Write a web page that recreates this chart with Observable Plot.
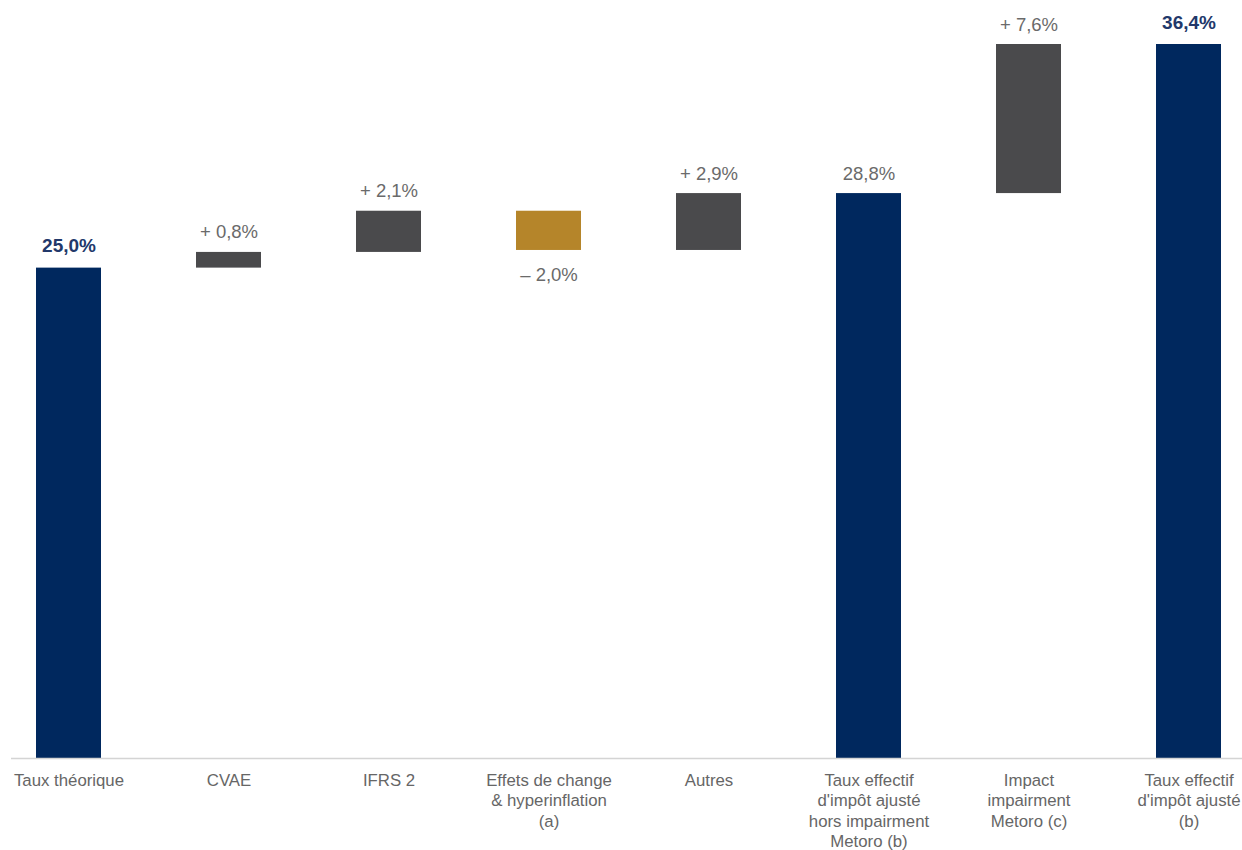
<!DOCTYPE html>
<html>
<head>
<meta charset="utf-8">
<script src="https://cdn.jsdelivr.net/npm/d3@7"></script>
<script src="https://cdn.jsdelivr.net/npm/@observablehq/plot@0.6"></script>
<style>
  html, body { margin: 0; padding: 0; background: #fff; }
  svg { overflow: visible; }
</style>
</head>
<body>
<div id="chart"></div>
<script>
const categories = [
  "Taux théorique",
  "CVAE",
  "IFRS 2",
  "Effets de change\n& hyperinflation\n(a)",
  "Autres",
  "Taux effectif\nd'impôt ajusté\nhors impairment\nMetoro (b)",
  "Impact\nimpairment\nMetoro (c)",
  "Taux effectif\nd'impôt ajusté\n(b)"
];
const values = [25.0, 0.8, 2.1, -2.0, 2.9, 28.8, 7.6, 36.4];
const kinds = ["total", "delta", "delta", "delta", "delta", "total", "delta", "total"];
const valueLabels = ["25,0%", "+ 0,8%", "+ 2,1%", "– 2,0%", "+ 2,9%", "28,8%", "+ 7,6%", "36,4%"];
const emphasis = [true, false, false, false, false, false, false, true];

const colors = { total: "#00285e", up: "#4a4a4c", down: "#b5852a" };

let running = 0;
const data = categories.map((c, i) => {
  let start, end;
  if (kinds[i] === "total") { start = 0; end = values[i]; running = values[i]; }
  else { start = running; end = running + values[i]; running = end; }
  const fill = kinds[i] === "total" ? colors.total : (values[i] >= 0 ? colors.up : colors.down);
  return {
    cat: c, start, end,
    top: Math.max(start, end), bottom: Math.min(start, end),
    neg: values[i] < 0, fill, label: valueLabels[i], bold: emphasis[i]
  };
});

const font = "'Liberation Sans', Arial, Helvetica, sans-serif";

const chart = Plot.plot({
  width: 1242,
  height: 850,
  marginLeft: 11,
  marginRight: 0,
  marginTop: 0,
  marginBottom: 92,
  style: { fontFamily: font, background: "transparent" },
  x: { domain: categories, range: [35, 1222], paddingInner: 0.595, paddingOuter: 0, label: null },
  y: { domain: [0, 36.4], range: [758, 44], axis: null },
  marks: [
    Plot.rectY(data, { x: "cat", y1: "start", y2: "end", fill: d => d.fill }),
    Plot.ruleY([0], { stroke: "#d4d4d4", strokeWidth: 1.5 }),
    Plot.axisX({ tickSize: 0, tickPadding: 13, fontSize: 16.8, lineHeight: 1.21, fill: "#666", label: null }),
    Plot.text(data.filter(d => !d.neg && !d.bold), {
      x: "cat", y: "top", text: "label", dy: -14, lineAnchor: "bottom",
      fontSize: 18.5, fill: "#6a6a6a"
    }),
    Plot.text(data.filter(d => d.bold), {
      x: "cat", y: "top", text: "label", dy: -16, lineAnchor: "bottom",
      fontSize: 19, fontWeight: "bold", fill: "#22386a"
    }),
    Plot.text(data.filter(d => d.neg), {
      x: "cat", y: "bottom", text: "label", dy: 17, lineAnchor: "top",
      fontSize: 18.5, fill: "#6a6a6a"
    })
  ]
});
document.getElementById("chart").appendChild(chart);
</script>
</body>
</html>
